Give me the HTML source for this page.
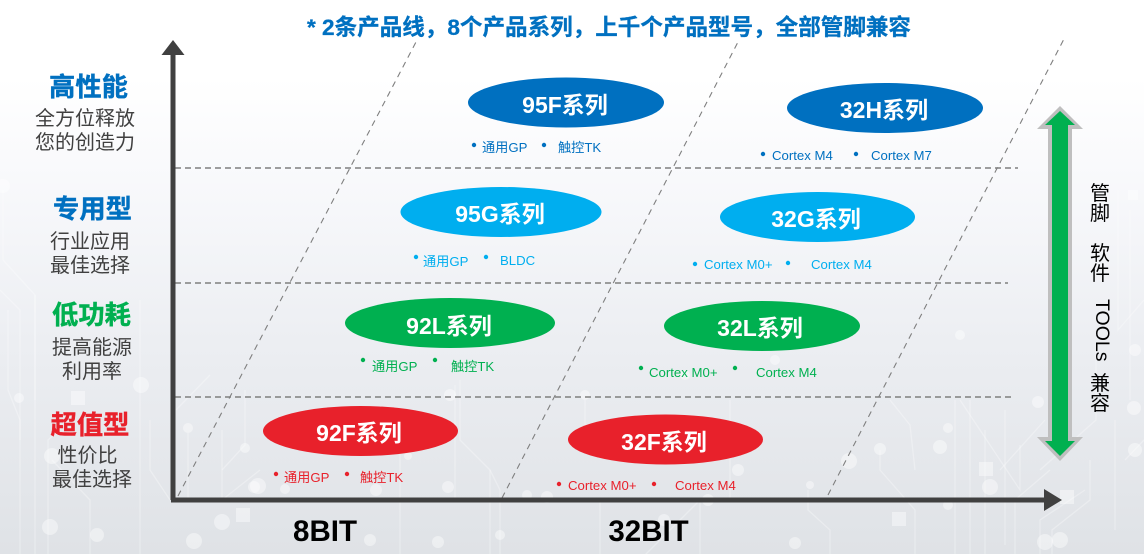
<!DOCTYPE html>
<html lang="zh">
<head>
<meta charset="utf-8">
<title>产品线</title>
<style>
html,body{margin:0;padding:0;width:1144px;height:554px;overflow:hidden;background:#fff}
svg{display:block}
text{font-family:"Liberation Sans","Noto Sans CJK SC",sans-serif}
.h{font-weight:700;font-size:26.3px;text-anchor:middle;stroke-width:.4px}
.s{font-size:20px;fill:#404040;text-anchor:middle}
.e{font-weight:700;font-size:23px;fill:#fff;text-anchor:middle}
.t{font-size:13.2px}
.v{font-size:20px;fill:#000;text-anchor:middle}
</style>
</head>
<body>
<svg width="1144" height="554" viewBox="0 0 1144 554" xmlns="http://www.w3.org/2000/svg">
<defs>
<linearGradient id="bg" x1="0" y1="0" x2="0" y2="1">
<stop offset="0" stop-color="#ffffff"/>
<stop offset=".14" stop-color="#ffffff"/>
<stop offset=".38" stop-color="#f6f7fa"/>
<stop offset=".62" stop-color="#eceef2"/>
<stop offset="1" stop-color="#dfe2e6"/>
</linearGradient>
</defs>
<rect width="1144" height="554" fill="url(#bg)"/>

<!-- circuit background -->
<g fill="none" stroke="#fff" stroke-opacity=".3" stroke-width="1.3">
<path d="M3 190V260L35 295V400"/>
<path d="M0 290L20 310V440"/>
<path d="M8 310V390L20 420V554"/>
<path d="M35 295V554"/>
<path d="M48 554V440L75 415"/>
<path d="M90 554V500L52 460"/>
<path d="M140 300V554"/>
<path d="M150 420V470L170 500"/>
<path d="M176 410L210 375"/>
<path d="M222 430V500L260 470"/>
<path d="M245 390V445L222 470"/>
<path d="M188 433V500"/>
<path d="M400 420V554"/>
<path d="M455 385V500"/>
<path d="M500 554V490L490 470"/>
<path d="M585 400V450"/>
<path d="M600 554V500"/>
<path d="M460 380V440L490 470V554"/>
<path d="M700 554V500L640 560"/>
<path d="M730 500V400"/>
<path d="M880 450V470L915 510V554"/>
<path d="M808 490V510L830 530V554"/>
<path d="M890 400L910 425L915 470"/>
<path d="M955 400V554"/>
<path d="M970 400V554"/>
<path d="M985 430V554"/>
<path d="M1005 410V545"/>
<path d="M1020 445V490L960 400"/>
<path d="M1000 470L1045 420"/>
<path d="M1015 554V500L1050 470"/>
<path d="M1040 554V520L1085 490"/>
<path d="M1052 554V530L1090 500V460"/>
<path d="M1118 190V330L1144 300"/>
<path d="M1130 210V400"/>
<path d="M1096 350V420L1040 470"/>
<path d="M1115 420V530"/>
<path d="M1125 460L1144 440"/>
</g>
<g fill="#fff" fill-opacity=".42">
<circle cx="3" cy="186" r="7"/><circle cx="19" cy="398" r="5"/><circle cx="50" cy="527" r="8"/>
<circle cx="52" cy="456" r="8"/><rect x="71" y="391" width="14" height="14"/><circle cx="141" cy="385" r="8"/>
<circle cx="194" cy="541" r="8"/><circle cx="222" cy="522" r="8"/><rect x="236" y="508" width="14" height="14"/>
<circle cx="188" cy="428" r="5"/><circle cx="254" cy="487" r="6"/><circle cx="258" cy="486" r="8"/>
<circle cx="245" cy="448" r="5"/><circle cx="285" cy="489" r="5"/><circle cx="97" cy="535" r="7"/>
<circle cx="439" cy="441" r="5"/><circle cx="408" cy="456" r="4"/><circle cx="448" cy="487" r="6"/>
<circle cx="376" cy="490" r="6"/><circle cx="438" cy="542" r="6"/><circle cx="370" cy="540" r="6"/>
<circle cx="450" cy="395" r="6"/><circle cx="610" cy="430" r="6"/><circle cx="585" cy="395" r="5"/>
<circle cx="527" cy="495" r="5"/><circle cx="547" cy="497" r="6"/><circle cx="500" cy="535" r="5"/>
<circle cx="664" cy="520" r="6"/><circle cx="738" cy="470" r="6"/><circle cx="795" cy="543" r="6"/>
<circle cx="880" cy="449" r="6"/><circle cx="849" cy="461" r="8"/><circle cx="810" cy="485" r="4"/>
<circle cx="940" cy="447" r="7"/><circle cx="948" cy="428" r="5"/><rect x="979" y="462" width="14" height="14"/>
<circle cx="990" cy="487" r="8"/><circle cx="948" cy="505" r="5"/><circle cx="1045" cy="542" r="8"/>
<circle cx="1135" cy="450" r="7"/><circle cx="1134" cy="408" r="7"/><rect x="892" y="512" width="14" height="14"/>
<circle cx="1135" cy="350" r="6"/><circle cx="1038" cy="402" r="6"/><rect x="1128" y="190" width="10" height="10"/>
<rect x="1060" y="490" width="14" height="14"/><circle cx="1060" cy="540" r="8"/><circle cx="708" cy="500" r="6"/>
<circle cx="685" cy="375" r="5"/><circle cx="775" cy="360" r="5"/><circle cx="960" cy="335" r="5"/>
</g>

<!-- horizontal dashed -->
<g stroke="#7f7f7f" stroke-width="1.5" stroke-dasharray="6 4" fill="none">
<path d="M175 168H1018"/>
<path d="M175 283H1008"/>
<path d="M175 397H1012"/>
</g>
<!-- diagonal dashed -->
<g stroke="#7f7f7f" stroke-width="1.1" stroke-dasharray="6 5" fill="none">
<path d="M178 496L416 42"/>
<path d="M502 498L738 42"/>
<path d="M828 495L1065 37"/>
</g>

<!-- axes -->
<path d="M173 55V500" stroke="#404040" stroke-width="5" fill="none"/>
<polygon points="173,40 184.500,55 161.500,55" fill="#404040"/>
<path d="M171 500H1045" stroke="#404040" stroke-width="5" fill="none"/>
<polygon points="1044,489 1062,500 1044,511" fill="#404040"/>

<!-- title -->
<text x="307" y="35" font-size="22.500" font-weight="700" fill="#0070c0" stroke="#0070c0" stroke-width=".3" textLength="604" lengthAdjust="spacingAndGlyphs">* 2条产品线，8个产品系列，上千个产品型号，全部管脚兼容</text>

<!-- left labels -->
<text class="h" x="88.500" y="96" fill="#0070c0" stroke="#0070c0">高性能</text>
<text class="s" x="85" y="125">全方位释放</text>
<text class="s" x="85" y="149">您的创造力</text>
<text class="h" x="92.500" y="218" fill="#0070c0" stroke="#0070c0">专用型</text>
<text class="s" x="90" y="248">行业应用</text>
<text class="s" x="90" y="272">最佳选择</text>
<text class="h" x="91.500" y="324" fill="#00b050" stroke="#00b050">低功耗</text>
<text class="s" x="92" y="354">提高能源</text>
<text class="s" x="92" y="378">利用率</text>
<text class="h" x="90" y="434" fill="#e8212b" stroke="#e8212b">超值型</text>
<text class="s" x="87.500" y="462">性价比</text>
<text class="s" x="92" y="486">最佳选择</text>

<!-- ellipses -->
<ellipse cx="566" cy="102.500" rx="98" ry="25" fill="#0070c0"/>
<text class="e" x="565" y="113">95F系列</text>
<ellipse cx="885" cy="108" rx="98" ry="25" fill="#0070c0"/>
<text class="e" x="884" y="118">32H系列</text>
<ellipse cx="501" cy="212" rx="100.500" ry="25" fill="#00aeef"/>
<text class="e" x="500" y="222">95G系列</text>
<ellipse cx="817.500" cy="217" rx="97.500" ry="25" fill="#00aeef"/>
<text class="e" x="816" y="227">32G系列</text>
<ellipse cx="450" cy="323" rx="105" ry="25" fill="#00b050"/>
<text class="e" x="449" y="334">92L系列</text>
<ellipse cx="762" cy="326" rx="98" ry="25" fill="#00b050"/>
<text class="e" x="760" y="336">32L系列</text>
<ellipse cx="360.500" cy="431" rx="97.500" ry="25" fill="#e8212b"/>
<text class="e" x="359" y="441">92F系列</text>
<ellipse cx="665.500" cy="439.500" rx="97.500" ry="25" fill="#e8212b"/>
<text class="e" x="664" y="450">32F系列</text>

<!-- sub labels -->
<g fill="#0070c0">
<circle cx="474" cy="145" r="2.200"/><circle cx="544" cy="145" r="2.200"/>
<circle cx="763" cy="154" r="2.200"/><circle cx="856" cy="154" r="2.200"/>
<text class="t" x="482" y="152">通用GP</text><text class="t" x="558" y="152">触控TK</text>
<text class="t" x="772" y="160">Cortex M4</text><text class="t" x="871" y="160">Cortex M7</text>
</g>
<g fill="#00aeef">
<circle cx="416" cy="257" r="2.200"/><circle cx="486" cy="257" r="2.200"/>
<circle cx="695" cy="264" r="2.200"/><circle cx="788" cy="263" r="2.200"/>
<text class="t" x="423" y="266">通用GP</text><text class="t" x="500" y="265">BLDC</text>
<text class="t" x="704" y="269">Cortex M0+</text><text class="t" x="811" y="269">Cortex M4</text>
</g>
<g fill="#00b050">
<circle cx="363" cy="360" r="2.200"/><circle cx="435" cy="360" r="2.200"/>
<circle cx="641" cy="368" r="2.200"/><circle cx="735" cy="368" r="2.200"/>
<text class="t" x="372" y="371">通用GP</text><text class="t" x="451" y="371">触控TK</text>
<text class="t" x="649" y="377">Cortex M0+</text><text class="t" x="756" y="377">Cortex M4</text>
</g>
<g fill="#e8212b">
<circle cx="276" cy="474" r="2.200"/><circle cx="347" cy="474" r="2.200"/>
<circle cx="559" cy="484" r="2.200"/><circle cx="654" cy="484" r="2.200"/>
<text class="t" x="284" y="482">通用GP</text><text class="t" x="360" y="482">触控TK</text>
<text class="t" x="568" y="490">Cortex M0+</text><text class="t" x="675" y="490">Cortex M4</text>
</g>

<!-- bottom labels -->
<text x="325" y="541" font-size="29.500" font-weight="700" fill="#000" text-anchor="middle">8BIT</text>
<text x="648.500" y="541" font-size="29.500" font-weight="700" fill="#000" text-anchor="middle">32BIT</text>

<!-- double arrow -->
<polygon points="1060,106 1083,129 1072,129 1072,437 1083,437 1060,461 1037,437 1048,437 1048,129 1037,129" fill="#bfbfbf"/>
<polygon points="1060,111 1075,125 1068,125 1068,441 1075,441 1060,456 1045,441 1052,441 1052,125 1045,125" fill="#00b050"/>

<!-- vertical text -->
<text class="v" x="1100" y="200">管</text>
<text class="v" x="1100" y="220">脚</text>
<text class="v" x="1100" y="260">软</text>
<text class="v" x="1100" y="280">件</text>
<text transform="translate(1096,299) rotate(90)" font-size="19.500" fill="#000">TOOLs</text>
<text class="v" x="1100" y="390">兼</text>
<text class="v" x="1100" y="410">容</text>
</svg>
</body>
</html>
